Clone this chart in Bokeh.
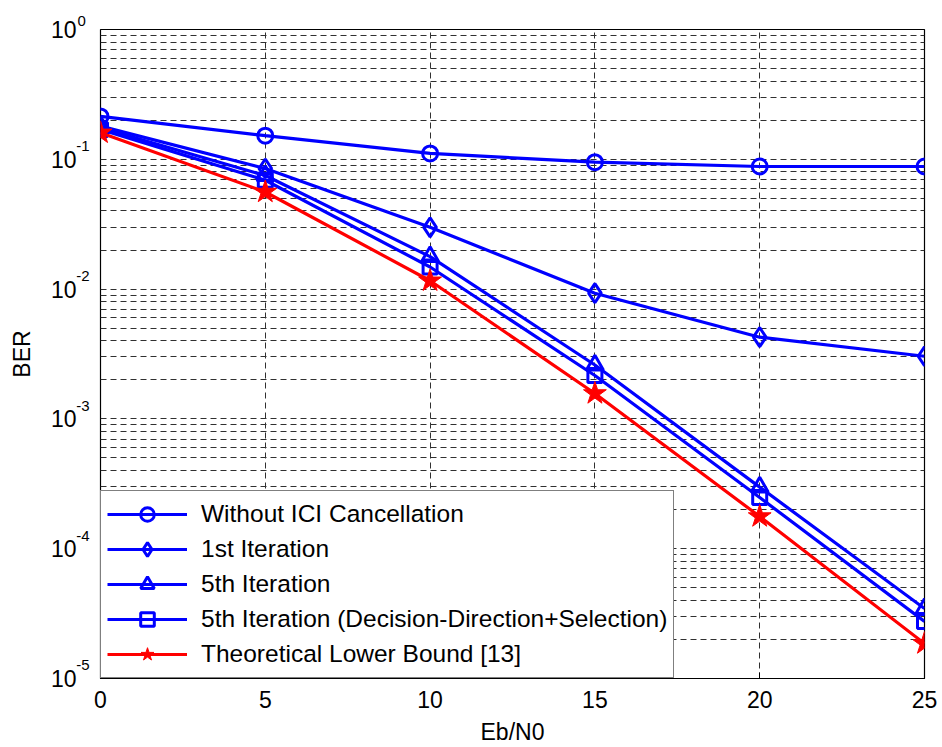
from bokeh.plotting import figure
from bokeh.models import (Legend, LegendItem, FixedTicker, Range1d, LinearAxis, LogAxis,
                          LinearScale, CustomJSTickFormatter, Title)
from bokeh.embed import file_html
from bokeh.resources import INLINE

# ---- data ----
ebn0 = [0, 5, 10, 15, 20, 25]
ber_without_ici = [0.214, 0.152, 0.111, 0.095, 0.088, 0.088]
ber_iter1 = [0.180, 0.085, 0.0299, 0.0093, 0.00426, 0.00304]
ber_iter5 = [0.175, 0.075, 0.0178, 0.00260, 0.000298, 3.46e-5]
ber_iter5_dd = [0.170, 0.069, 0.0148, 0.00216, 0.000248, 2.75e-5]
ber_bound = [0.160, 0.056, 0.0116, 0.00157, 0.000177, 1.86e-5]

series_labels = ["Without ICI Cancellation", "1st Iteration", "5th Iteration",
                 "5th Iteration (Decision-Direction+Selection)", "Theoretical Lower Bound [13]"]
x_ticks = [0, 5, 10, 15, 20, 25]
y_decades = [1e-5, 1e-4, 1e-3, 1e-2, 1e-1, 1e0]
y_exponents = [-5, -4, -3, -2, -1, 0]
y_minor = [m * d for d in y_decades[:-1] for m in range(2, 10)]

FONT = "Liberation Sans"
BLUE = "#0000FF"
RED = "#FF0000"

# exponent labels sit on a linear log10 copy of the y axis, raised by SHIFT decades
SHIFT = 0.1015625

p = figure(width=942, height=747, y_axis_type="log",
           x_range=Range1d(0, 25), y_range=Range1d(1e-5, 1),
           y_axis_location=None,
           output_backend="svg", toolbar_location=None,
           min_border_left=100, min_border_right=18, min_border_top=29, min_border_bottom=69)
p.outline_line_color = "black"
p.outline_line_width = 1.2
p.background_fill_color = "white"

# x axis
p.xaxis.ticker = FixedTicker(ticks=x_ticks)
ax = p.xaxis[0]
ax.axis_line_color = "black"
ax.major_tick_in = 6
ax.major_tick_out = 0
ax.minor_tick_in = 0
ax.minor_tick_out = 0
ax.major_label_text_font = FONT
ax.major_label_text_font_size = "23px"
ax.major_label_text_color = "black"
ax.major_label_standoff = 12
ax.axis_label = "Eb/N0"
ax.axis_label_text_font = FONT
ax.axis_label_text_font_size = "23px"
ax.axis_label_text_font_style = "normal"
ax.axis_label_text_color = "black"
ax.axis_label_standoff = 8

# y axis: exponents (closest to frame) and "10" bases
p.extra_y_ranges = {"exp": Range1d(y_exponents[0] - SHIFT, y_exponents[-1] - SHIFT)}
p.extra_y_scales = {"exp": LinearScale()}
exp_axis = LinearAxis(y_range_name="exp", ticker=FixedTicker(ticks=y_exponents),
                      bounds=(y_exponents[0], y_exponents[-1]),
                      formatter=CustomJSTickFormatter(code="return tick.toFixed(0)"))
exp_axis.axis_line_color = None
exp_axis.major_tick_in = 0
exp_axis.major_tick_out = 0
exp_axis.minor_tick_in = 0
exp_axis.minor_tick_out = 0
exp_axis.major_label_standoff = 11
exp_axis.major_label_text_font = FONT
exp_axis.major_label_text_font_size = "15px"
exp_axis.major_label_text_color = "black"
p.add_layout(exp_axis, "left")

base_axis = LogAxis(ticker=FixedTicker(ticks=y_decades),
                    formatter=CustomJSTickFormatter(code="return '10'"))
base_axis.axis_line_color = None
base_axis.major_tick_in = 0
base_axis.major_tick_out = 0
base_axis.minor_tick_in = 0
base_axis.minor_tick_out = 0
base_axis.major_label_standoff = -3
base_axis.major_label_text_font = FONT
base_axis.major_label_text_font_size = "23px"
base_axis.major_label_text_color = "black"
base_axis.axis_label = "BER"
base_axis.axis_label_text_font = FONT
base_axis.axis_label_text_font_size = "23px"
base_axis.axis_label_text_font_style = "normal"
base_axis.axis_label_text_color = "black"
base_axis.axis_label_standoff = 13
p.add_layout(base_axis, "left")

# exponent of the top tick label (10^0), which lies above the frame
top_exp = Title(text=str(y_exponents[-1]), align="left", offset=-23, standoff=8,
                text_font=FONT, text_font_size="15px", text_font_style="normal",
                text_color="black")
p.add_layout(top_exp, "above")

# grid
p.xgrid.ticker = FixedTicker(ticks=x_ticks)
p.xgrid.grid_line_color = "#303030"
p.xgrid.grid_line_dash = "6 4"
p.ygrid.ticker = FixedTicker(ticks=y_decades, minor_ticks=y_minor)
p.ygrid.grid_line_color = "#303030"
p.ygrid.grid_line_dash = "6 4"
p.ygrid.minor_grid_line_color = "#303030"
p.ygrid.minor_grid_line_dash = "6 4"

series = [ber_without_ici, ber_iter1, ber_iter5, ber_iter5_dd, ber_bound]
markers = ["circle", "diamond", "triangle", "square", "star"]
sizes = [15, 19, 17, 14, 24]
colors = [BLUE, BLUE, BLUE, BLUE, RED]

items = []
for ys, mk, sz, col, lab in zip(series, markers, sizes, colors, series_labels):
    lr = p.line(ebn0, ys, line_color=col, line_width=3.2)
    if mk == "star":
        sr = p.scatter(ebn0, ys, marker=mk, size=sz, line_color=col, fill_color=col, line_width=1)
    else:
        sr = p.scatter(ebn0, ys, marker=mk, size=sz, line_color=col, fill_color=None, line_width=3)
    items.append(LegendItem(label=lab, renderers=[lr, sr]))

legend = Legend(items=items, location=(0, 0))
legend.border_line_color = "black"
legend.border_line_width = 1.2
legend.background_fill_color = "white"
legend.background_fill_alpha = 1.0
legend.padding = 6
legend.spacing = 1
legend.margin = 0
legend.glyph_width = 80
legend.glyph_height = 34
legend.label_height = 34
legend.label_standoff = 14
legend.label_text_font = FONT
legend.label_text_font_size = "24.5px"
legend.label_text_color = "black"
p.add_layout(legend)

open("out.html", "w").write(file_html(p, INLINE))
